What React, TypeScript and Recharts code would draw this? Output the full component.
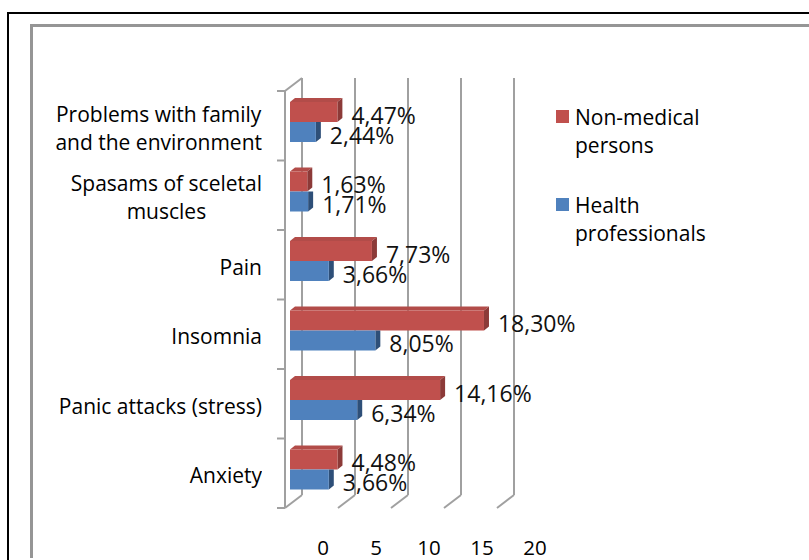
import { BarChart, Bar, XAxis, YAxis, CartesianGrid, Legend, LabelList } from 'recharts'

const categories = [
  'Problems with family\nand the environment',
  'Spasams of sceletal\nmuscles',
  'Pain',
  'Insomnia',
  'Panic attacks (stress)',
  'Anxiety'
]
const nonMedical = [4.47, 1.63, 7.73, 18.30, 14.16, 4.48]
const healthPros = [2.44, 1.71, 3.66, 8.05, 6.34, 3.66]
const seriesNames = ['Non-medical persons', 'Health professionals']
const xTicks = [0, 5, 10, 15, 20]

const data = categories.map((name, i) => ({
  name,
  nonMedical: nonMedical[i],
  health: healthPros[i]
}))

const W = 809
const H = 560
const PLOT_TOP = 91
const PLOT_BOTTOM = 508
const PLOT_LEFT = 285
const PLOT_RIGHT = 497
const Y_AXIS_W = 250
const X_AXIS_H = 50
const DEPTH_X = 17
const DEPTH_Y = 13
const GRID = '#a0a0a0'
const FONT = '"Open Sans", "Noto Sans", sans-serif'

const bandHalf = (PLOT_BOTTOM - PLOT_TOP) / categories.length / 2

const fmt = (v: number) => v.toFixed(2).replace('.', ',') + '%'

// bar face drawn a bit into the depth of the floor, with a top and a side face
const Bar3D = (props: any) => {
  const { x, y, width, height, front, side, top, lower } = props
  if (width == null) return null
  const dx = 5
  const dy = 4
  const fx = x + 5
  const fy = y - 4
  const r = fx + width
  return (
    <g>
      {!lower && (
        <polygon points={`${fx},${fy} ${fx + dx},${fy - dy} ${r + dx},${fy - dy} ${r},${fy}`} fill={top} />
      )}
      {lower
        ? <polygon points={`${r},${fy} ${r + dx},${fy} ${r + dx},${fy + height - dy} ${r},${fy + height}`} fill={side} />
        : <polygon points={`${r},${fy} ${r + dx},${fy - dy} ${r + dx},${fy + height - dy} ${r},${fy + height}`} fill={side} />}
      <rect x={fx} y={fy} width={width} height={height} fill={front} />
    </g>
  )
}

const wallLine = (props: any) => {
  const { x1, y1, y2, index } = props
  const first = index === 0 || Math.abs(x1 - PLOT_LEFT) < 1
  return (
    <g key={`wall-${index}-${x1}`}>
      <line x1={x1 + DEPTH_X} y1={y1 - DEPTH_Y} x2={x1 + DEPTH_X} y2={y2 - DEPTH_Y} stroke={GRID} strokeWidth={2} />
      <line x1={x1} y1={y2} x2={x1 + DEPTH_X} y2={y2 - DEPTH_Y} stroke={GRID} strokeWidth={2} />
      {first && <line x1={x1} y1={y1} x2={x1 + DEPTH_X} y2={y1 - DEPTH_Y} stroke={GRID} strokeWidth={2} />}
    </g>
  )
}

const CategoryTick = (props: any) => {
  const { x, y, payload, index, visibleTicksCount } = props
  const lines = String(payload.value).split('\n')
  return (
    <g>
      <line x1={x - 8} x2={x} y1={y - bandHalf} y2={y - bandHalf} stroke={GRID} strokeWidth={2} />
      {index === visibleTicksCount - 1 && (
        <line x1={x - 8} x2={x} y1={y + bandHalf} y2={y + bandHalf} stroke={GRID} strokeWidth={2} />
      )}
      <foreignObject x={x - 283} y={y - 38} width={260} height={80}>
        <div style={{ display: 'flex', justifyContent: 'flex-end', alignItems: 'center', height: '100%' }}>
          <div style={{ textAlign: 'center', lineHeight: '28px', fontSize: 21, fontFamily: FONT, color: '#000', whiteSpace: 'nowrap' }}>
            {lines.map((l, i) => <div key={i}>{l}</div>)}
          </div>
        </div>
      </foreignObject>
    </g>
  )
}

const ValueTick = (props: any) => {
  const { x, y, payload } = props
  return (
    <text x={x + 38} y={y + 39} textAnchor="middle" dominantBaseline="central" fontSize={20.5} fontFamily={FONT} fill="#000">
      {payload.value}
    </text>
  )
}

const pctLabel = (props: any) => {
  const { x, y, width, height, value } = props
  if (x == null) return null
  return (
    <text x={x + width + 19} y={y + height / 2 - 1.5} dominantBaseline="central" fontSize={23} fontFamily={FONT} fill="#111">
      {fmt(Number(value))}
    </text>
  )
}

const LegendBox = (props: any) => {
  const items = [...(props.payload || [])].sort(
    (a: any, b: any) => seriesNames.indexOf(a.value) - seriesNames.indexOf(b.value)
  )
  return (
    <div style={{ fontFamily: FONT, fontSize: 21, color: '#000' }}>
      {items.map((p: any, i: number) => (
        <div key={i} style={{ display: 'flex', alignItems: 'flex-start', marginBottom: i === 0 ? 32 : 0 }}>
          <div style={{ width: 13, height: 13, background: p.color, marginTop: 7, marginRight: 6, flex: 'none' }} />
          <div style={{ lineHeight: '28px', width: 140 }}>{p.value}</div>
        </div>
      ))}
    </div>
  )
}

export default function App () {
  return (
    <div style={{ position: 'absolute', left: 0, top: 0, width: W, height: H, overflow: 'hidden', background: '#fff' }}>
      <div style={{ position: 'absolute', left: 7, top: 12, width: W, height: H, borderTop: '2px solid #000', borderLeft: '2px solid #000' }} />
      <div style={{ position: 'absolute', left: 30, top: 24, width: W, height: 531, borderTop: '3px solid #959595', borderLeft: '3px solid #959595' }} />
      <div style={{ position: 'absolute', left: 0, top: 0 }}>
        <BarChart
          layout="vertical"
          width={W}
          height={H}
          data={data}
          barSize={20}
          barGap={0}
          margin={{ top: PLOT_TOP, right: W - PLOT_RIGHT, bottom: H - PLOT_BOTTOM - X_AXIS_H, left: PLOT_LEFT - Y_AXIS_W }}
        >
          <CartesianGrid horizontal={false} vertical={wallLine} stroke={GRID} />
          <XAxis
            type="number"
            domain={[0, 20]}
            ticks={xTicks}
            height={X_AXIS_H}
            axisLine={false}
            tickLine={false}
            tickSize={0}
            tickMargin={0}
            tick={<ValueTick />}
            interval={0}
          />
          <YAxis
            type="category"
            dataKey="name"
            width={Y_AXIS_W}
            axisLine={{ stroke: GRID, strokeWidth: 2 }}
            tickLine={false}
            tickSize={0}
            tickMargin={0}
            tick={<CategoryTick />}
            interval={0}
          />
          <Legend
            layout="vertical"
            align="center"
            verticalAlign="middle"
            content={<LegendBox />}
            wrapperStyle={{ left: 556, top: 103, width: 240, height: 150 }}
          />
          <Bar
            dataKey="nonMedical"
            name={seriesNames[0]}
            fill="#C0504D"
            isAnimationActive={false}
            shape={<Bar3D front="#C0504D" side="#8C3A38" top="#B24C49" />}
          >
            <LabelList dataKey="nonMedical" content={pctLabel} />
          </Bar>
          <Bar
            dataKey="health"
            name={seriesNames[1]}
            fill="#4F81BD"
            isAnimationActive={false}
            shape={<Bar3D front="#4F81BD" side="#2E4F78" top="#4573AA" lower />}
          >
            <LabelList dataKey="health" content={pctLabel} />
          </Bar>
        </BarChart>
      </div>
    </div>
  )
}
